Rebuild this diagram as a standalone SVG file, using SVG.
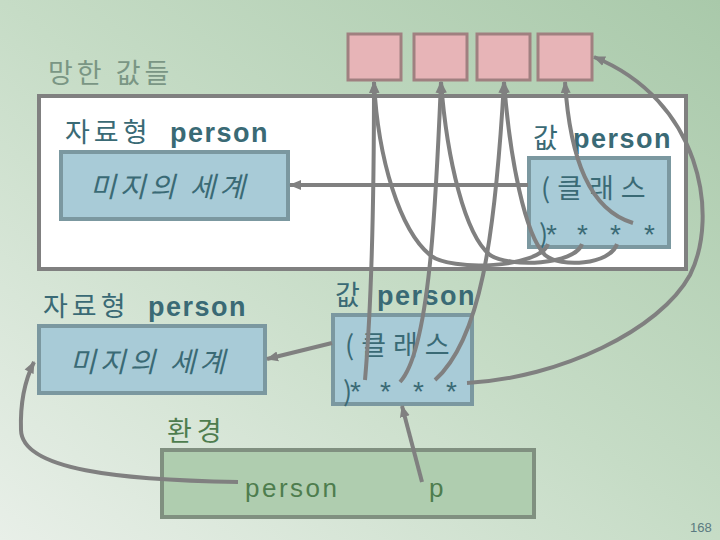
<svg xmlns="http://www.w3.org/2000/svg" width="720" height="540" viewBox="0 0 720 540">
<defs>
<linearGradient id="bg" x1="1" y1="0" x2="0" y2="1">
<stop offset="0" stop-color="#a9c9aa"/>
<stop offset="0.5" stop-color="#c6dcc6"/>
<stop offset="1" stop-color="#e8efe8"/>
</linearGradient>
<marker id="ah" markerUnits="userSpaceOnUse" markerWidth="12" markerHeight="12" viewBox="0 0 12 12" refX="11" refY="6" orient="auto">
<path d="M0,1 L12,6 L0,11 Z" fill="#808080"/>
</marker>
<style>
.cj{font-family:"Noto Sans CJK KR","Liberation Sans",sans-serif}
.lbl{fill:#3a6a75;font-size:27px;letter-spacing:4px}
.bold{font-family:"Liberation Sans",sans-serif;font-weight:bold;letter-spacing:1.5px}
.blue{fill:#a8cbd7;stroke:#7b98a0;stroke-width:4}
.red{fill:#e7b4b7;stroke:#a08080;stroke-width:3}
.inner{fill:#3a6a75;font-size:27px}
.it{font-style:italic;letter-spacing:4px;font-size:28px}
.star{font-family:"Liberation Sans",sans-serif;font-size:28px}
.conn path,.conn line{fill:none;stroke:#808080;stroke-width:4}
.env{fill:#4e7d4e;font-family:"Liberation Sans",sans-serif;font-size:26px;letter-spacing:2.5px}
</style>
</defs>
<rect width="720" height="540" fill="url(#bg)"/>
<text class="cj" x="48" y="83" font-size="27" fill="#7a9684" letter-spacing="4">망한 값들</text>
<rect id="dead-area" x="39" y="96" width="647" height="173" fill="#ffffff" stroke="#808080" stroke-width="4"/>
<g id="red1"><rect class="red" x="348" y="34" width="53" height="46"/></g>
<g id="red2"><rect class="red" x="414" y="34" width="53" height="46"/></g>
<g id="red3"><rect class="red" x="477" y="34" width="53" height="46"/></g>
<g id="red4"><rect class="red" x="538" y="34" width="54" height="46"/></g>
<g id="type1">
<text class="cj lbl" x="65" y="142"><tspan>자료형</tspan><tspan class="bold" x="170">person</tspan></text>
<rect class="blue" x="61" y="152" width="227" height="67"/>
<text class="cj inner it" x="90" y="197">미지의 세계</text>
</g>
<g id="val1">
<text class="cj lbl" x="533" y="148"><tspan>값</tspan><tspan class="bold" x="573">person</tspan></text>
<rect class="blue" x="529" y="158" width="140" height="89"/>
<text class="cj inner" x="541" y="198" letter-spacing="7">(클래스</text>
<text class="cj inner" y="244"><tspan x="539">)</tspan><tspan class="star" x="546">*</tspan><tspan class="star" x="577">*</tspan><tspan class="star" x="610">*</tspan><tspan class="star" x="644">*</tspan></text>
</g>
<g id="type2">
<text class="cj lbl" x="43" y="316"><tspan>자료형</tspan><tspan class="bold" x="148">person</tspan></text>
<rect class="blue" x="39" y="326" width="226" height="67"/>
<text class="cj inner it" x="70" y="372">미지의 세계</text>
</g>
<g id="val2">
<text class="cj lbl" x="335" y="305"><tspan>값</tspan><tspan class="bold" x="377">person</tspan></text>
<rect class="blue" x="333" y="315" width="139" height="89"/>
<text class="cj inner" x="345" y="355" letter-spacing="7">(클래스</text>
<text class="cj inner" y="401"><tspan x="343">)</tspan><tspan class="star" x="350">*</tspan><tspan class="star" x="380">*</tspan><tspan class="star" x="413">*</tspan><tspan class="star" x="446">*</tspan></text>
</g>
<g id="env">
<text class="cj" x="167" y="441" font-size="27" fill="#4e7d4e" letter-spacing="5">환경</text>
<rect x="162" y="450" width="372" height="67" fill="#afcdaf" stroke="#809080" stroke-width="4"/>
<text class="env" x="245" y="497">person</text>
<text class="env" x="429" y="497">p</text>
</g>
<text x="690" y="532" font-family="Liberation Sans,sans-serif" font-size="13" fill="#5a7a80">168</text>
<g class="conn">
<line x1="528" y1="185" x2="290" y2="185" marker-end="url(#ah)"/>
<line x1="332" y1="343" x2="267" y2="359" marker-end="url(#ah)"/>
<path d="M238,482 C120,480 22,470 21,430 C20,400 26,378 34,362" marker-end="url(#ah)"/>
<path d="M422,482 L402,406" marker-end="url(#ah)"/>
<path d="M633,223 C590,210 570,160 565,82" marker-end="url(#ah)"/>
<path d="M548,244 C540,268 450,272 430,255 C400,230 378,160 374,82" marker-end="url(#ah)"/>
<path d="M582,244 C575,265 510,268 490,255 C465,235 447,160 441,82" marker-end="url(#ah)"/>
<path d="M617,244 C610,265 560,268 545,255 C525,235 510,160 504,82" marker-end="url(#ah)"/>
<path d="M365,380 C372,300 374,200 374,82" marker-end="url(#ah)"/>
<path d="M400,382 C430,350 436,200 441,82" marker-end="url(#ah)"/>
<path d="M435,380 C480,340 495,240 504,82" marker-end="url(#ah)"/>
<path d="M467,383 C560,378 660,330 690,275 C720,215 700,100 594,57" marker-end="url(#ah)"/>
</g>
</svg>
